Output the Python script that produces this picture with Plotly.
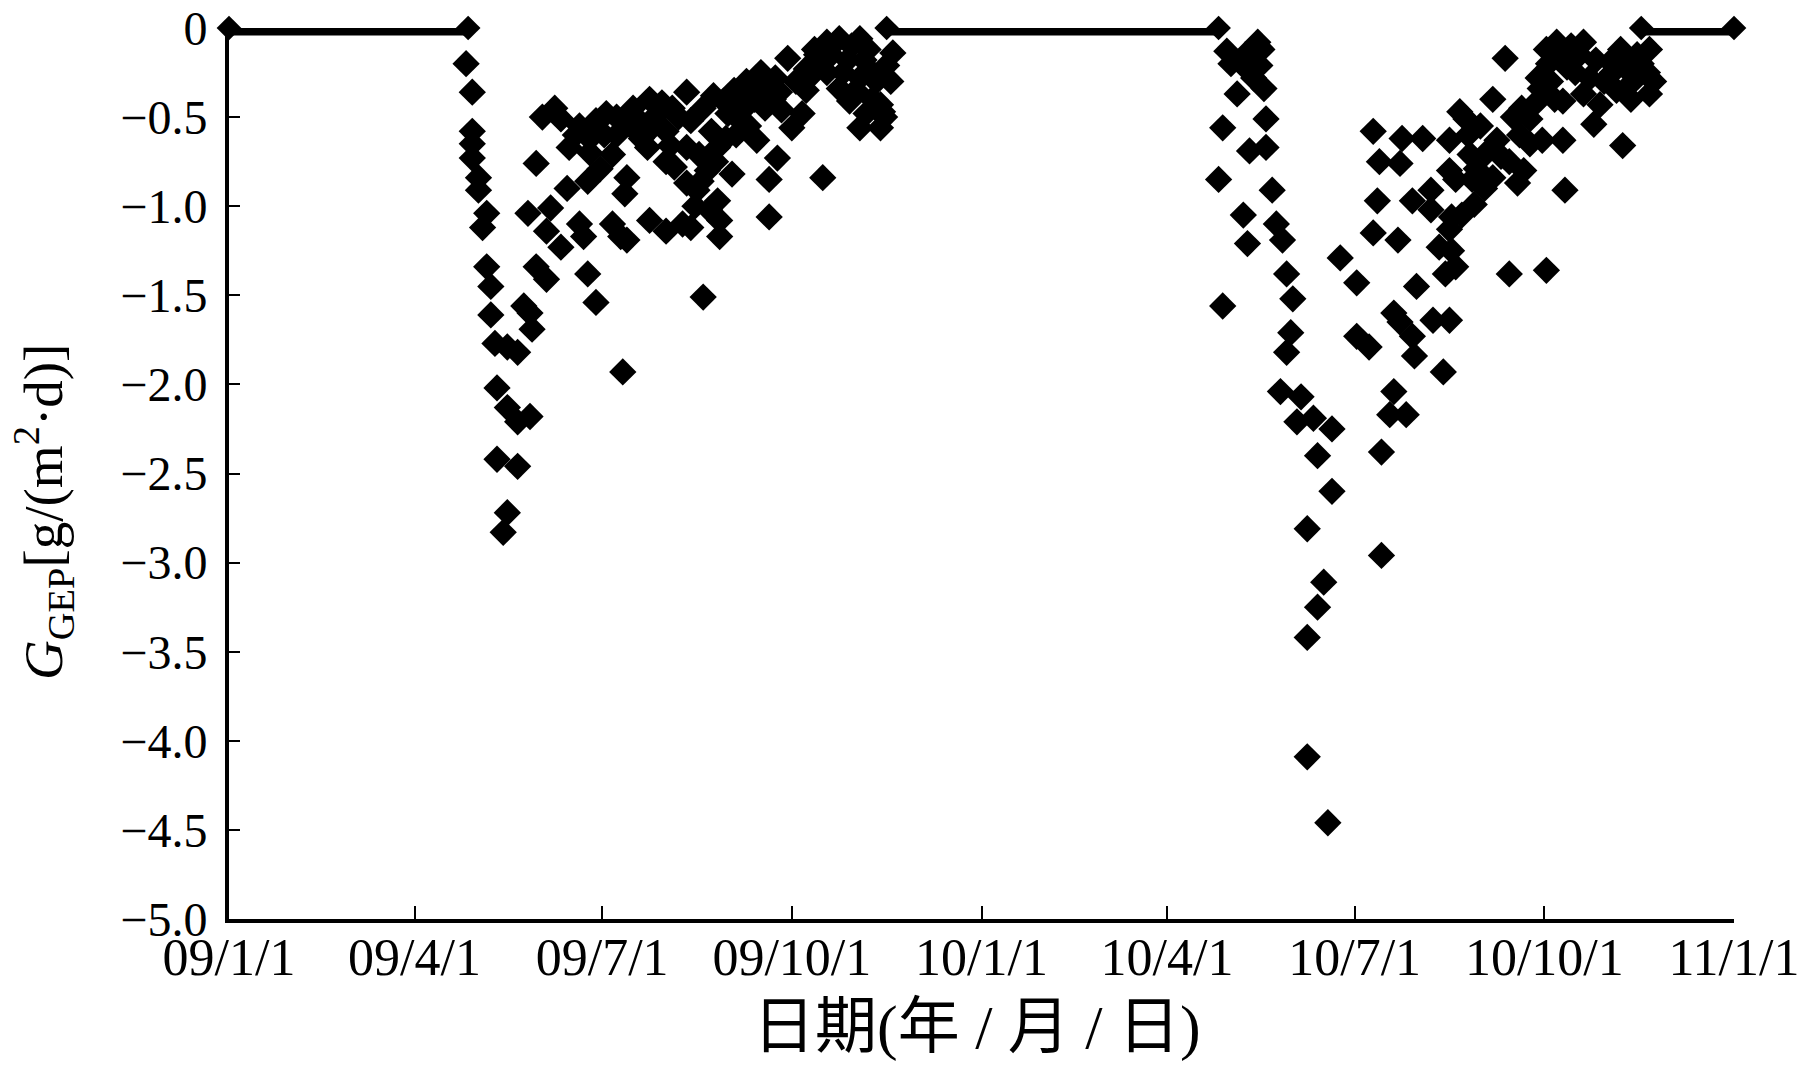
import pandas as pd
import plotly.graph_objects as go

# ---- data ----
# 2009 growing season: day offset from 2009-01-01, GEP value
day_2009 = [115, 118, 118, 118, 118, 121, 121, 125, 123, 125, 127, 127, 129, 140, 135, 130, 135, 140, 146, 130, 140, 135, 133,
            149, 145, 161, 165, 164, 156, 154, 161, 170, 172, 149, 154, 146, 147, 143, 174, 178, 191, 178, 183, 186, 180, 174,
            193, 192, 186, 190, 193, 204, 199, 203, 212, 212, 204, 212, 220, 222, 222, 222,
            224, 240, 251, 261, 267, 248, 241, 237, 228, 232, 244, 227, 237, 238, 238, 224, 230, 256, 266, 262, 262, 288,
            271, 273, 278, 280, 283, 290, 296, 306, 290, 296, 301, 306, 312, 319, 321, 316, 306, 316, 317,
            170, 175, 188, 195, 208, 215, 218, 230, 235, 245, 255, 258, 265, 275, 285, 300, 310, 280,
            152, 158, 168, 175, 182, 188, 196, 200, 206, 210, 214, 216,
            284, 288, 292, 298, 302, 304, 308, 312, 314, 318, 322, 309,
            242, 246, 250, 253, 257, 260, 264, 268, 252, 246, 234, 236, 229, 233, 226]
gep_2009 = [-0.20, -0.36, -0.58, -0.65, -0.73, -0.84, -0.91, -1.04, -1.12, -1.34, -1.45, -1.61, -1.77, -1.82, -1.79, -2.02, -2.13, -2.21, -2.18, -2.42, -2.46, -2.72, -2.83,
            -0.76, -1.04, -0.51, -0.67, -0.90, -1.01, -1.14, -1.23, -1.10, -1.17, -1.34, -1.41, -1.60, -1.69, -1.56, -1.38, -1.54, -1.93, -0.52, -0.48, -0.71, -0.79, -0.86,
            -0.84, -0.93, -1.10, -1.17, -1.19, -0.40, -0.52, -0.67, -0.58, -0.75, -1.08, -1.14, -1.10, -0.36, -0.67, -0.87,
            -0.52, -0.41, -0.30, -0.34, -0.36, -0.52, -0.62, -0.67, -0.71, -0.80, -0.82, -0.91, -0.97, -1.08, -1.17, -1.12, -1.51, -0.63, -0.73, -0.85, -1.06, -0.84,
            -0.17, -0.56, -0.48, -0.23, -0.26, -0.08, -0.06, -0.06, -0.25, -0.34, -0.41, -0.28, -0.25, -0.21, -0.30, -0.43, -0.56, -0.56, -0.47,
            -0.55, -0.62, -0.60, -0.55, -0.48, -0.45, -0.50, -0.45, -0.38, -0.35, -0.40, -0.25, -0.28, -0.30, -0.15, -0.18, -0.12, -0.35,
            -0.50, -0.45, -0.60, -0.70, -0.60, -0.50, -0.45, -0.62, -0.55, -0.42, -0.66, -0.78,
            -0.12, -0.18, -0.15, -0.25, -0.10, -0.35, -0.18, -0.40, -0.30, -0.50, -0.14, -0.48,
            -0.48, -0.42, -0.45, -0.38, -0.35, -0.45, -0.40, -0.46, -0.55, -0.60, -0.58, -0.75, -0.86, -1.02, -1.00]

# 2010 growing season: day offset from 2010-01-01, GEP value
day_2010 = [119, 127, 134, 135, 124, 137, 138, 117, 130, 138, 115, 141, 127, 143, 146, 129, 148, 151, 117, 150, 148, 145, 155, 153, 161, 170, 163, 170, 158,
            174, 182, 182, 188, 190, 193, 192, 190, 202, 204, 214, 203, 209, 218, 218, 227, 227, 228, 222, 225, 211, 200, 203, 219, 227, 209, 210, 224, 200, 198, 206, 194, 232,
            194, 166, 163, 158, 158, 168,
            254, 248, 235, 250, 237, 240, 239, 227, 228, 230, 248, 263, 260, 266, 261, 272, 282, 283, 311, 297, 256, 274, 279, 292, 274, 271, 282, 276, 288, 292, 300, 305, 310, 318, 323, 324, 315, 268,
            121, 128, 132, 136,
            275, 280, 284, 286, 290, 295, 298, 302, 306, 308, 312, 316, 320, 324, 326, 270, 278,
            242, 245, 244, 236, 238, 252, 256, 258, 262, 266, 230, 233]
gep_2010 = [-0.13, -0.21, -0.08, -0.21, -0.37, -0.34, -0.51, -0.56, -0.69, -0.67, -0.85, -0.91, -1.05, -1.10, -1.19, -1.21, -1.38, -1.52, -1.56, -1.71, -1.82, -2.04, -2.07, -2.21, -2.19, -2.25, -2.40, -2.60, -2.81,
            -1.29, -1.43, -1.73, -1.79, -0.58, -0.75, -0.97, -1.15, -1.19, -0.62, -0.62, -0.76, -0.97, -0.91, -1.02, -0.63, -0.80, -1.06, -1.23, -1.38, -1.45, -1.60, -1.65, -1.64, -1.64, -1.73, -1.84, -1.93, -2.04, -2.17, -2.17, -2.38, -0.47,
            -2.96, -3.11, -3.25, -3.42, -4.09, -4.46,
            -0.17, -0.40, -0.51, -0.63, -0.71, -0.79, -0.99, -1.13, -1.25, -1.34, -0.84, -0.80, -0.87, -0.51, -0.60, -0.63, -0.63, -0.91, -0.66, -0.54, -1.38, -1.36, -0.08, -0.08, -0.12, -0.34, -0.41, -0.30, -0.25, -0.37, -0.43, -0.19, -0.12, -0.15, -0.25, -0.37, -0.40, -0.43,
            -0.20, -0.15, -0.28, -0.12,
            -0.20, -0.15, -0.22, -0.10, -0.15, -0.28, -0.18, -0.30, -0.25, -0.35, -0.22, -0.30, -0.20, -0.12, -0.30, -0.28, -0.40,
            -0.55, -0.70, -0.90, -0.60, -0.85, -0.72, -0.75, -0.50, -0.45, -0.65, -0.85, -1.05]

# dormant periods (GEP = 0)
dormant_start = ["2009-01-01", "2009-11-16", "2010-11-17"]
dormant_end = ["2009-04-27", "2010-04-26", "2011-01-01"]

x_tick_dates = ["2009-01-01", "2009-04-01", "2009-07-01", "2009-10-01", "2010-01-01",
                "2010-04-01", "2010-07-01", "2010-10-01", "2011-01-01"]
x_tick_labels = ["09/1/1", "09/4/1", "09/7/1", "09/10/1", "10/1/1", "10/4/1", "10/7/1", "10/10/1", "11/1/1"]
y_tick_vals = [0, -0.5, -1.0, -1.5, -2.0, -2.5, -3.0, -3.5, -4.0, -4.5, -5.0]
y_tick_labels = ["0", "\u22120.5", "\u22121.0", "\u22121.5", "\u22122.0", "\u22122.5", "\u22123.0",
                 "\u22123.5", "\u22124.0", "\u22124.5", "\u22125.0"]

# ---- build ----
dates_2009 = pd.Timestamp("2009-01-01") + pd.to_timedelta(day_2009, unit="D")
dates_2010 = pd.Timestamp("2010-01-01") + pd.to_timedelta(day_2010, unit="D")

fig = go.Figure()
for s, e in zip(dormant_start, dormant_end):
    fig.add_trace(go.Scatter(x=[s, e], y=[0, 0], mode="lines+markers",
                             line=dict(color="black", width=15),
                             marker=dict(symbol="diamond", size=19, color="black"),
                             cliponaxis=False, showlegend=False, hoverinfo="skip"))

marker_style = dict(symbol="diamond", size=21, color="black", line=dict(width=0))
fig.add_trace(go.Scatter(x=dates_2009, y=gep_2009, mode="markers", marker=marker_style,
                         cliponaxis=False, showlegend=False))
fig.add_trace(go.Scatter(x=dates_2010, y=gep_2010, mode="markers", marker=marker_style,
                         cliponaxis=False, showlegend=False))

serif = "Liberation Serif, Times New Roman, serif"
fig.update_layout(
    width=1804, height=1076,
    paper_bgcolor="white", plot_bgcolor="white",
    margin=dict(l=229, r=70, t=28, b=157),
    font=dict(family=serif, color="black"),
    xaxis=dict(type="date", range=["2009-01-01", "2011-01-01"],
               tickvals=x_tick_dates, ticktext=x_tick_labels,
               tickfont=dict(size=52, family=serif),
               ticks="inside", ticklen=13, tickwidth=2, tickcolor="black",
               showline=True, linecolor="black", linewidth=4,
               showgrid=False, zeroline=False, ticklabelstandoff=-10,
               automargin=False, ticklabeloverflow="allow"),
    yaxis=dict(range=[-5, 0], tickvals=y_tick_vals, ticktext=y_tick_labels,
               tickfont=dict(size=48, family=serif),
               ticks="inside", ticklen=11, tickwidth=2, tickcolor="black",
               showline=True, linecolor="black", linewidth=4,
               showgrid=False, zeroline=False, ticklabelstandoff=8,
               automargin=False, ticklabeloverflow="allow"),
    annotations=[
        dict(text="<i>G</i><sub>GEP</sub>[g/(m<sup>2</sup>·d)]", xref="paper", yref="paper",
             x=-0.1229, y=0.4568, xanchor="center", yanchor="middle", textangle=-90,
             showarrow=False, font=dict(size=55, family=serif, color="black")),
        dict(text="日期(年 / 月 / 日)", xref="paper", yref="paper",
             x=0.497, y=-0.1215, xanchor="center", yanchor="middle",
             showarrow=False, font=dict(size=62, family="Liberation Serif, Noto Sans CJK SC", color="black")),
    ],
)

fig.write_html("out.html", config={"displayModeBar": False},
               post_script="document.body.style.margin='0px';")
